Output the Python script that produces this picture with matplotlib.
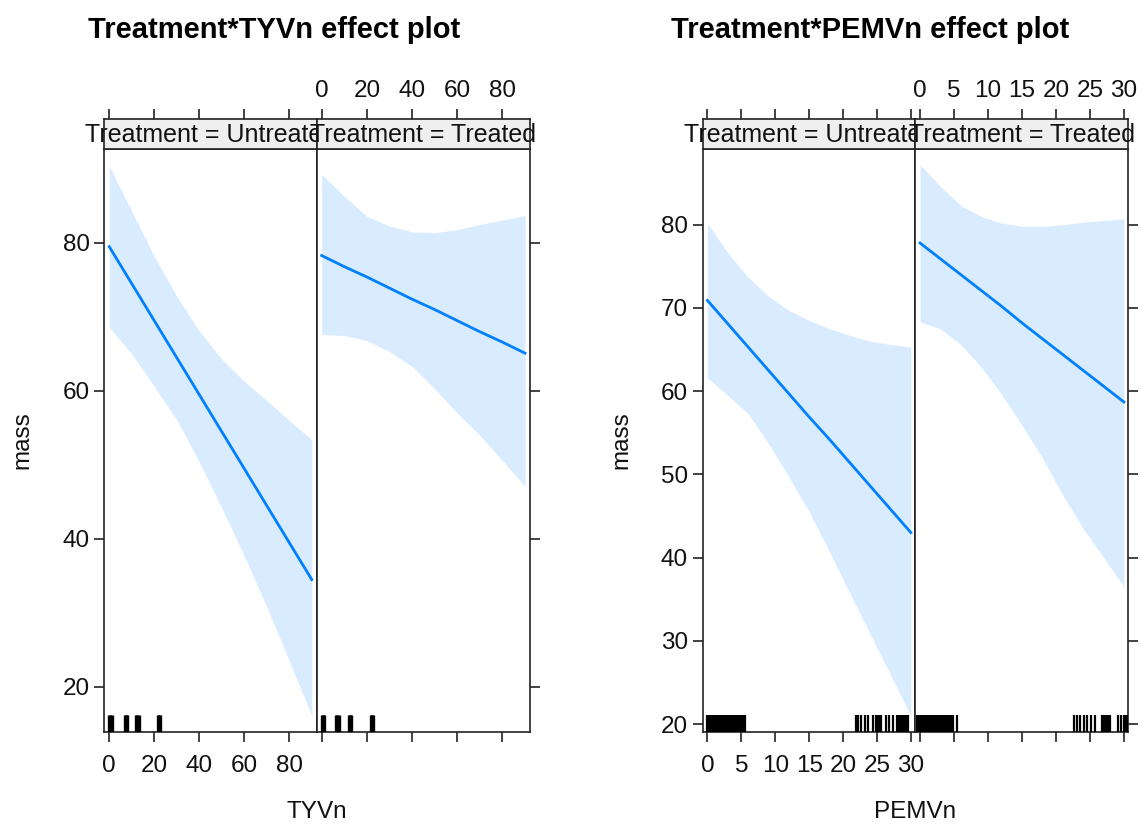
import matplotlib
matplotlib.use("Agg")
import matplotlib.pyplot as plt

plt.rcParams['font.family'] = ['Liberation Sans', 'DejaVu Sans']

# ---------------------------------------------------------------
# data
# ---------------------------------------------------------------
groups = ["Untreated", "Treated"]

# Treatment*TYVn
tyvn_x = [0, 10, 20, 30, 40, 50, 60, 70, 80, 90]
tyvn_fit_untr = [79.5, 74.5, 69.5, 64.5, 59.5, 54.5, 49.5, 44.5, 39.5, 34.5]
tyvn_up_untr = [90.4, 84.3, 78.2, 72.8, 68.1, 64.3, 61.3, 58.7, 56.0, 53.4]
tyvn_lo_untr = [68.6, 65.0, 60.6, 56.1, 50.4, 44.2, 37.7, 30.8, 23.5, 16.1]
tyvn_fit_trt = [78.3, 76.8, 75.4, 73.9, 72.4, 71.0, 69.5, 68.0, 66.6, 65.1]
tyvn_up_trt = [89.3, 86.3, 83.6, 82.3, 81.5, 81.4, 81.8, 82.5, 83.1, 83.7]
tyvn_lo_trt = [67.6, 67.5, 66.8, 65.3, 63.3, 60.3, 57.0, 54.0, 50.6, 47.1]
tyvn_rug_untr = [0, 0.5, 1, 7, 7.5, 8, 12, 12.5, 13, 21.5, 22, 22.5]
tyvn_rug_trt = [0, 0.5, 1, 6.5, 7, 7.5, 12, 12.5, 13, 21.8, 22.3, 22.8]
tyvn_ticks = [0, 20, 40, 60, 80]
tyvn_yticks = [20, 40, 60, 80]

# Treatment*PEMVn
pemvn_x = [0, 3, 6, 9, 12, 15, 18, 21, 24, 27, 30]
pemvn_fit_untr = [70.9, 68.1, 65.3, 62.5, 59.7, 56.9, 54.2, 51.4, 48.6, 45.8, 43.0]
pemvn_up_untr = [80.2, 76.6, 73.7, 71.4, 69.7, 68.5, 67.5, 66.7, 66.0, 65.6, 65.3]
pemvn_lo_untr = [61.6, 59.5, 57.3, 53.7, 49.7, 45.5, 40.7, 35.7, 30.8, 25.9, 21.0]
pemvn_fit_trt = [77.8, 75.9, 74.0, 72.1, 70.2, 68.2, 66.3, 64.4, 62.5, 60.6, 58.7]
pemvn_up_trt = [87.2, 84.6, 82.3, 81.0, 80.2, 79.8, 79.8, 80.0, 80.3, 80.5, 80.7]
pemvn_lo_trt = [68.3, 67.5, 65.6, 62.9, 59.6, 55.9, 52.0, 47.5, 43.5, 40.0, 36.5]
pemvn_rug_untr = [0, 0.25, 0.5, 0.75, 1, 1.25, 1.5, 1.75, 2, 2.25, 2.5, 2.75,
                  3, 3.25, 3.5, 3.75, 4, 4.25, 4.5, 4.75, 5, 5.25, 5.5,
                  21.9, 22.2, 22.7, 23.2, 23.7, 24.4, 24.9, 25.15, 25.4, 25.65,
                  26.3, 26.8, 27.3, 28.0, 28.25, 28.5, 28.75, 29.0, 29.25, 29.5]
pemvn_rug_trt = [-0.5, -0.25, 0, 0.25, 0.5, 0.75, 1, 1.25, 1.5, 1.75, 2, 2.25,
                 2.5, 2.75, 3, 3.25, 3.5, 3.75, 4, 4.25, 4.5, 4.9, 5.4,
                 22.6, 23.1, 23.6, 24.1, 24.6, 25.1, 25.8,
                 26.75, 27.0, 27.25, 27.5, 27.75, 28.0,
                 29.1, 29.6, 30.0, 30.25, 30.5]
pemvn_ticks = [0, 5, 10, 15, 20, 25, 30]
pemvn_yticks = [20, 30, 40, 50, 60, 70, 80]

# ---------------------------------------------------------------
W, H = 1142, 825
fig = plt.figure(figsize=(W / 100, H / 100), dpi=100)

LINE = '#0080ff'
BAND = '#d9ecff'
FRAME = '#222222'
FS = 17.5


def box(l, t, r, b):
    return [l / W, 1 - b / H, (r - l) / W, (b - t) / H]


def style_ax(ax):
    for s in ax.spines.values():
        s.set_color(FRAME)
        s.set_linewidth(1.2)
    ax.tick_params(direction='out', length=7.5, width=1.2, color=FRAME,
                   labelsize=FS, labelcolor='#111111')


def effect_chart(edges, xlim, ylim, xs, fits, ups, los, rugs, xticks, yticks,
                 rug_lw, title, title_x, xlabel, ylab_x):
    top, bot, s_top = 149, 732, 119
    for i in range(2):
        l, r = edges[i], edges[i + 1]
        ax = fig.add_axes(box(l, top, r, bot))
        ax.fill_between(xs, los[i], ups[i], color=BAND, lw=0, zorder=1)
        ax.plot(xs, fits[i], color=LINE, lw=2.0, zorder=3)
        ax.vlines(rugs[i], 0, 0.029, transform=ax.get_xaxis_transform(),
                  color='black', lw=rug_lw, zorder=4)
        ax.set_xlim(*xlim)
        ax.set_ylim(*ylim)
        ax.set_xticks(xticks)
        ax.set_yticks(yticks)
        style_ax(ax)
        ax.tick_params(axis='x', pad=9)
        ax.tick_params(axis='y', pad=3)
        if i == 0:
            ax.tick_params(axis='y', left=True, right=False, labelleft=True)
            ax.tick_params(axis='x', bottom=True, labelbottom=True)
        else:
            ax.tick_params(axis='y', left=False, right=True, labelleft=False)
            ax.tick_params(axis='x', bottom=True, labelbottom=False)

        # strip on top of the panel (label spills over like lattice does)
        st = fig.add_axes(box(l, s_top, r, top))
        st.set_facecolor('#efefef')
        st.set_xlim(*xlim)
        st.set_ylim(0, 1)
        st.set_yticks([])
        st.set_xticks(xticks)
        style_ax(st)
        st.tick_params(axis='x', bottom=False, top=True, labelbottom=False,
                       labeltop=(i == 1), pad=5)
        st.text(0.5, 0.45, "Treatment = " + groups[i], transform=st.transAxes,
                ha='center', va='center', fontsize=18, color='#111111',
                clip_on=False)

    fig.text(title_x / W, 1 - 30 / H, title, fontsize=21, fontweight='bold',
             ha='center', va='center')
    fig.text((edges[0] + edges[2]) / 2 / W, 1 - 812 / H, xlabel, fontsize=FS,
             ha='center', va='center', color='#111111')
    fig.text(ylab_x / W, 1 - 440 / H, "mass", fontsize=FS, rotation=90,
             ha='center', va='center', color='#111111')


effect_chart([104.3, 316.7, 530.0], (-2.2, 92.2), (13.9, 92.7), tyvn_x,
             [tyvn_fit_untr, tyvn_fit_trt], [tyvn_up_untr, tyvn_up_trt],
             [tyvn_lo_untr, tyvn_lo_trt], [tyvn_rug_untr, tyvn_rug_trt],
             tyvn_ticks, tyvn_yticks, 2.4,
             "Treatment*TYVn effect plot", 274, "TYVn", 22)

effect_chart([702.7, 915.3, 1128.3], (-0.7, 30.65), (19.04, 89.1), pemvn_x,
             [pemvn_fit_untr, pemvn_fit_trt], [pemvn_up_untr, pemvn_up_trt],
             [pemvn_lo_untr, pemvn_lo_trt], [pemvn_rug_untr, pemvn_rug_trt],
             pemvn_ticks, pemvn_yticks, 1.6,
             "Treatment*PEMVn effect plot", 870, "PEMVn", 621)

fig.savefig("out.png", dpi=100)
